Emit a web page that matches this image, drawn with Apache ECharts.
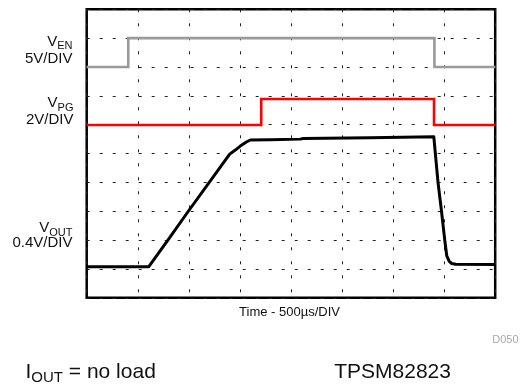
<!DOCTYPE html>
<html>
<head>
<meta charset="utf-8">
<script src="https://cdn.jsdelivr.net/npm/echarts@6/dist/echarts.min.js"></script>
<style>
  html, body { margin: 0; padding: 0; background: #fff; }
  #chart { width: 528px; height: 388px; }
</style>
</head>
<body>
<div id="chart"></div>
<script>
// ---- Data (time in µs, vertical values in scope divisions, 0 = bottom) ----
const xTicksUs = [0, 500, 1000, 1500, 2000, 2500, 3000, 3500, 4000]; // 500 µs/DIV
const yDivTicks = [0, 1, 2, 3, 4, 5, 6, 7, 8, 9, 10];

const timeEN = [0, 407, 407, 3405, 3405, 4000];
const vEN    = [8.0, 8.0, 9.0, 9.0, 8.0, 8.0];

const timePG = [0, 1709, 1709, 3401, 3401, 4000];
const vPG    = [5.99, 5.99, 6.89, 6.89, 5.99, 5.99];

const timeOUT = [0, 608, 795, 995, 1200, 1400, 1455, 1504, 1563, 1602, 1797, 2090, 2120, 2773, 3399, 3440, 3474, 3506, 3526, 3550, 3574, 3613, 4000];
const vOUT    = [1.08, 1.08, 2.0, 3.0, 4.0, 4.98, 5.12, 5.26, 5.4, 5.47, 5.48, 5.5, 5.52, 5.55, 5.58, 4.0, 3.01, 2.0, 1.45, 1.26, 1.19, 1.16, 1.15];

const pairs = (t, v) => t.map((x, i) => [x, v[i]]);

const FONT = '"Liberation Sans", Arial, Helvetica, sans-serif';
const TXT = '#111';

const measureCtx = document.createElement('canvas').getContext('2d');
function tw(str, size) { measureCtx.font = size + 'px ' + FONT; return measureCtx.measureText(str).width; }

function txt(x, y, text, size, align, fill) {
  return { type: 'text', x: x, y: y, silent: true,
    style: { text: text, font: size + 'px ' + FONT, fill: fill || TXT, align: align || 'left', verticalAlign: 'middle' } };
}

// channel labels: main letter + subscript, right aligned
function chanLabel(right, yMain, main, sub, yScale, scale) {
  const subW = tw(sub, 11);
  return [
    txt(right - subW, yMain, main, 15, 'right'),
    txt(right - subW, yMain + 4.5, sub, 11, 'left'),
    txt(right, yScale, scale, 15, 'right')
  ];
}

const graphics = [].concat(
  chanLabel(72.5, 41.5, 'V', 'EN', 59, '5V/DIV'),
  chanLabel(73.5, 103.3, 'V', 'PG', 120, '2V/DIV'),
  chanLabel(72.5, 228.3, 'V', 'OUT', 243, '0.4V/DIV'),
  [ txt(289.5, 312, 'Time - 500µs/DIV', 13, 'center'),
    txt(518.5, 340, 'D050', 11, 'right', '#aaaaaa') ]
);
// bottom notes
(function () {
  const x0 = 25.5, y0 = 372.3;
  const wI = tw('I', 21), wSub = tw('OUT', 15);
  graphics.push(txt(x0, y0, 'I', 21, 'left'));
  graphics.push(txt(x0 + wI, y0 + 6, 'OUT', 15, 'left'));
  graphics.push(txt(x0 + wI + wSub, y0, ' = no load', 21, 'left'));
  graphics.push(txt(334.2, 371.8, 'TPSM82823', 21, 'left'));
})();

const chart = echarts.init(document.getElementById('chart'), null, { renderer: 'canvas' });
chart.setOption({
  animation: false,
  backgroundColor: '#fff',
  grid: { left: 86.7, top: 9.3, width: 408.5, height: 288.5, show: true,
          borderColor: '#000', borderWidth: 2.5, backgroundColor: 'transparent' },
  xAxis: {
    type: 'value', min: xTicksUs[0], max: xTicksUs[xTicksUs.length - 1], interval: 500,
    axisLine: { show: false }, axisTick: { show: false }, axisLabel: { show: false },
    splitLine: { show: true, lineStyle: { color: '#222', width: 1, type: [3, 11], dashOffset: 0 } }
  },
  yAxis: {
    type: 'value', min: yDivTicks[0], max: yDivTicks[yDivTicks.length - 1], interval: 1,
    axisLine: { show: false }, axisTick: { show: false }, axisLabel: { show: false },
    splitLine: { show: true, lineStyle: { color: '#222', width: 1, type: [3, 10], dashOffset: 0 } }
  },
  series: [
    { name: 'VEN', type: 'line', data: pairs(timeEN, vEN), showSymbol: false, silent: true,
      lineStyle: { color: '#9a9a9a', width: 2.6, cap: 'butt', join: 'miter' } },
    { name: 'VPG', type: 'line', data: pairs(timePG, vPG), showSymbol: false, silent: true,
      lineStyle: { color: '#ff0000', width: 2.6, cap: 'butt', join: 'miter' } },
    { name: 'VOUT', type: 'line', data: pairs(timeOUT, vOUT), showSymbol: false, silent: true,
      lineStyle: { color: '#000', width: 3, join: 'round' } }
  ],
  graphic: graphics
});
</script>
</body>
</html>
